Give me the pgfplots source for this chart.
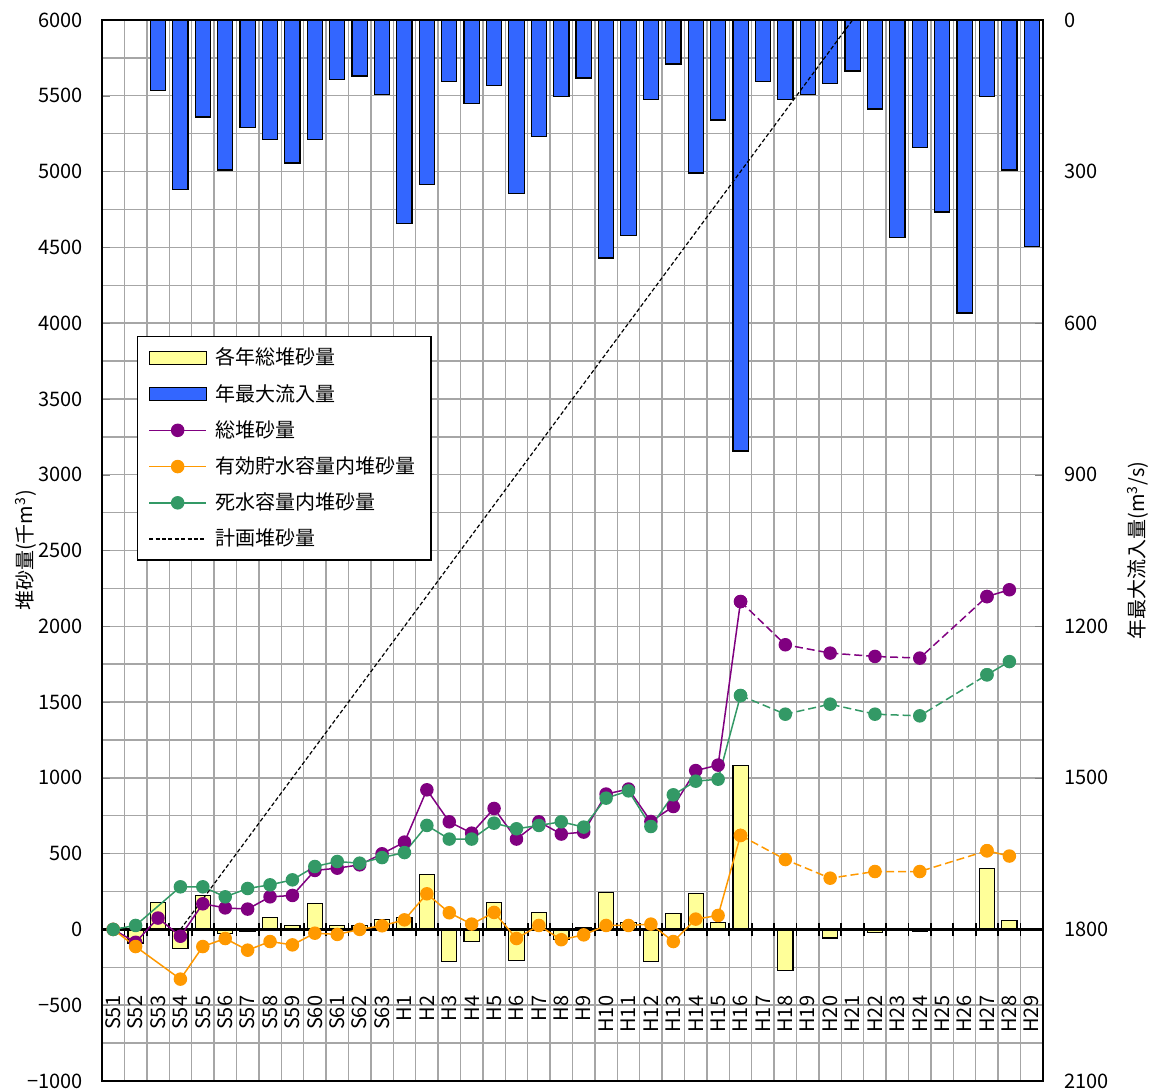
\documentclass[border=0pt]{standalone}
\usepackage{fontspec}
\setmainfont{Noto Sans CJK JP}
\usepackage{pgfplots}
\pgfplotsset{compat=1.18}
\usepackage{pgfplotstable}
\definecolor{cblue}{HTML}{3366FF}
\definecolor{cyellow}{HTML}{FFFF99}
\definecolor{cpurple}{HTML}{800080}
\definecolor{corange}{HTML}{FF9900}
\definecolor{cgreen}{HTML}{339966}
\definecolor{cgrid}{HTML}{A6A6A6}

% annual max inflow (m3/s), right axis
\pgfplotstableread{
x y
2 140
3 335
4 192
5 297
6 212
7 236
8 283
9 236
10 117
11 111
12 148
13 402
14 325
15 121
16 166
17 129
18 344
19 230
20 152
21 115
22 471
23 426
24 158
25 87
26 303
27 198
28 853
29 121
30 158
31 148
32 125
33 101
34 176
35 431
36 253
37 380
38 580
39 152
40 297
41 449
}\inflow

% annual sedimentation (1000 m3), left axis
\pgfplotstableread{
x y
1 -90
2 180
3 -128
4 226
5 -25
6 -10
7 80
8 25
9 170
10 25
11 25
12 66
13 80
14 360
15 -214
16 -80
17 180
18 -205
19 112
20 -68
21 12
22 246
23 46
24 -211
25 103
26 235
27 46
28 1082
30 -271
32 -57
34 -22
36 -10
39 404
40 59
}\annual

\pgfplotsset{
  base/.style={width=470.5pt, height=530.5pt, scale only axis,
    at={(0,0)}, anchor=south west,
    xmin=-0.5, xmax=41.5,
    /pgf/number format/assume math mode=true,
    /pgf/number format/1000 sep={},
    tick label style={font=\fontsize{10}{12}\selectfont},
    label style={font=\fontsize{10}{12}\selectfont},
    x axis line style={-}, y axis line style={-}},
  barleg/.style={legend image code/.code={\draw[##1] (0pt,-3.25pt) rectangle (28.5pt,3.25pt);}},
  lineleg/.style={legend image code/.code={\draw[mark repeat=2,mark phase=2,##1] plot coordinates {(0pt,0pt) (14.25pt,0pt) (28.5pt,0pt)};}},
  plainleg/.style={legend image code/.code={\draw[##1] (0pt,0pt) -- (28.5pt,0pt);}},
}

\begin{document}
\begin{tikzpicture}
% 1: grid
\begin{axis}[base, ymin=-1000, ymax=6000,
  axis line style={draw=none},
  xtick={0.5,1.5,...,40.5}, ytick={-750,-500,...,5750},
  xticklabels={}, yticklabels={},
  major tick length=0pt,
  grid=major, grid style={cgrid, line width=0.7pt}]
\end{axis}

% 2: right axis, max inflow bars hanging from top
\begin{axis}[base, ymin=0, ymax=2100, y dir=reverse,
  axis x line=none, axis y line*=right,
  y axis line style={line width=0.8pt},
  ytick={0,300,...,2100}, tick align=inside, major tick length=4pt,
  yticklabel style={inner sep=0pt}, yticklabel shift=10.5pt,
  ylabel={年最大流入量(m\textsuperscript{3}/s)},
  ylabel style={at={(axis description cs:1.101,0.5)}, anchor=center},
  ybar, bar width=0.68]
\addplot[fill=cblue, draw=black, line width=0.6pt] table {\inflow};
\end{axis}

% 3: left axis, box, annual bars
\begin{axis}[base, ymin=-1000, ymax=6000,
  axis line style={line width=0.8pt},
  xtick=\empty, ytick={-1000,-500,...,6000},
  yticklabels={−1000,−500,0,500,1000,1500,2000,2500,3000,3500,4000,4500,5000,5500,6000},
  ytick pos=left, tick align=inside, major tick length=4pt,
  yticklabel style={inner sep=0pt}, yticklabel shift=9.5pt,
  ylabel={堆砂量(千m\textsuperscript{3})},
  ylabel style={at={(axis description cs:-0.081,0.5)}, anchor=center},
  ybar, bar width=0.68]
\addplot[fill=cyellow, draw=black, line width=0.6pt] table {\annual};
\end{axis}

% 4: zero line with category labels
\begin{axis}[base, ymin=-1000, ymax=6000,
  axis y line=none, axis x line*=middle,
  hide obscured x ticks=false,
  x axis line style={line width=1.1pt, black},
  xtick={0,1,...,41},
  xticklabels={S51,S52,S53,S54,S55,S56,S57,S58,S59,S60,S61,S62,S63,H1,H2,H3,H4,H5,H6,H7,H8,H9,H10,H11,H12,H13,H14,H15,H16,H17,H18,H19,H20,H21,H22,H23,H24,H25,H26,H27,H28,H29},
  minor xtick={0.5,1.5,...,40.5},
  major tick length=0pt, minor tick length=6.5pt, tick align=center,
  minor x tick style={line width=0.9pt, black},
  xticklabel style={rotate=90, anchor=east, inner sep=0pt},
  xticklabel shift=33pt]
\end{axis}

% 5: cumulative lines and legend
\begin{axis}[base, ymin=-1000, ymax=6000, hide axis,
  legend style={at={(axis description cs:0.037,0.702)}, anchor=north west,
    draw=black, line width=0.6pt, fill=white, font=\fontsize{10}{12}\selectfont,
    row sep=4.2pt, inner xsep=5.5pt, inner ysep=3.5pt,
    /tikz/every odd column/.append style={column sep=2.5pt}},
  legend cell align=left]
\addlegendimage{barleg, fill=cyellow, draw=black, line width=0.6pt}
\addlegendentry{各年総堆砂量}
\addlegendimage{barleg, fill=cblue, draw=black, line width=0.6pt}
\addlegendentry{年最大流入量}

\addplot[lineleg, cpurple, line width=0.75pt, mark=*, mark size=3pt, mark options={solid}] coordinates {
(0,0)(1,-85)(2,75)(3,-45)(4,169)(5,142)(6,134)(7,215)(8,224)(9,389)(10,404)(11,426)(12,499)(13,576)(14,921)(15,710)(16,635)(17,798)(18,596)(19,710)(20,629)(21,642)(22,893)(23,926)(24,712)(25,811)(26,1048)(27,1084)(28,2163)};
\addlegendentry{総堆砂量}
\addplot[forget plot, cpurple, line width=0.75pt, dash pattern=on 4pt off 2pt, mark=*, mark size=3pt, mark options={solid}] coordinates {
(28,2163)(30,1878)(32,1823)(34,1801)(36,1790)(39,2196)};
\addplot[forget plot, cpurple, line width=0.75pt, mark=*, mark size=3pt] coordinates {(39,2196)(40,2241)};

\addplot[lineleg, corange, line width=0.75pt, mark=*, mark size=3pt, mark options={solid}] coordinates {
(0,0)(1,-113)(3,-328)(4,-113)(5,-60)(6,-137)(7,-80)(8,-102)(9,-25)(10,-33)(11,0)(12,24)(13,63)(14,235)(15,110)(16,35)(17,112)(18,-60)(19,26)(20,-68)(21,-36)(22,26)(23,26)(24,35)(25,-80)(26,68)(27,92)(28,620)};
\addlegendentry{有効貯水容量内堆砂量}
\addplot[forget plot, corange, line width=0.75pt, dash pattern=on 4pt off 2pt, mark=*, mark size=3pt, mark options={solid}] coordinates {
(28,620)(30,461)(32,338)(34,382)(36,382)(39,519)};
\addplot[forget plot, corange, line width=0.75pt, mark=*, mark size=3pt] coordinates {(39,519)(40,484)};

\addplot[lineleg, cgreen, line width=0.75pt, mark=*, mark size=3pt, mark options={solid}] coordinates {
(0,0)(1,26)(3,281)(4,281)(5,215)(6,270)(7,294)(8,327)(9,415)(10,448)(11,437)(12,474)(13,507)(14,686)(15,596)(16,596)(17,701)(18,664)(19,686)(20,710)(21,675)(22,866)(23,914)(24,679)(25,888)(26,978)(27,991)(28,1543)};
\addlegendentry{死水容量内堆砂量}
\addplot[forget plot, cgreen, line width=0.75pt, dash pattern=on 4pt off 2pt, mark=*, mark size=3pt, mark options={solid}] coordinates {
(28,1543)(30,1420)(32,1486)(34,1420)(36,1409)(39,1680)};
\addplot[forget plot, cgreen, line width=0.75pt, mark=*, mark size=3pt] coordinates {(39,1680)(40,1767)};

\addplot[plainleg, black, line width=0.6pt, dash pattern=on 2pt off 1.2pt] coordinates {(3,0)(33,6000)};
\addlegendentry{計画堆砂量}
\end{axis}

\pgfresetboundingbox
\path[use as bounding box] (-51pt,-4.5pt) rectangle (525.5pt,540.5pt);
\end{tikzpicture}
\end{document}
